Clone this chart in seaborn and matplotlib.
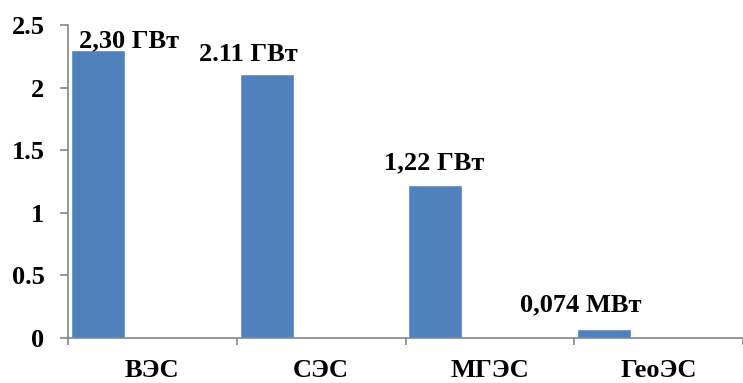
import matplotlib
matplotlib.use("Agg")
import matplotlib.pyplot as plt
import seaborn as sns

# Installed capacity by plant type
categories = ["ВЭС", "СЭС", "МГЭС", "ГеоЭС"]
values = [2.30, 2.11, 1.22, 0.074]
value_labels = ["2,30 ГВт", "2.11 ГВт", "1,22 ГВт", "0,074 МВт"]
y_ticks = [0, 0.5, 1, 1.5, 2, 2.5]
y_tick_labels = ["0", "0.5", "1", "1.5", "2", "2.5"]

# label placement relative to the top centre of each bar (pixels)
label_offsets = [(31, 3), (-18, 13), (-1, 16), (-23, 17)]

BAR_COLOR = "#4F81BD"
AXIS_COLOR = "#868686"
FONT = ["Liberation Serif", "DejaVu Serif"]
FS = 19

sns.set_theme(style="white")
plt.rcParams["font.family"] = FONT
plt.rcParams["font.weight"] = "bold"

W, H = 743, 383
fig = plt.figure(figsize=(W / 100, H / 100), dpi=100)
ax = fig.add_axes([68 / W, 45 / H, (W - 68) / W, 313 / H])

sns.barplot(x=categories, y=values, width=0.32, color=BAR_COLOR,
            saturation=1, ax=ax)

bar_w = 0.32
gap = 0.0175
slot_left = -bar_w / 2 - gap
n = len(categories)

ax.set_ylim(0, 2.5)
ax.set_xlim(slot_left, slot_left + (W - 68) / 172)

ax.set_yticks(y_ticks)
ax.set_yticklabels(y_tick_labels, fontsize=FS, fontweight="bold")

# category names sit in the middle of each slot, tick marks on slot boundaries
ax.set_xticks([i + slot_left + 0.5 for i in range(n)])
ax.set_xticklabels(categories, fontsize=FS, fontweight="bold")
ax.set_xticks([i + slot_left for i in range(n + 1)], minor=True)

ax.tick_params(axis="x", which="major", length=0, pad=15, colors="black")
ax.tick_params(axis="x", which="minor", length=5, width=1.2,
               color=AXIS_COLOR, direction="out", bottom=True)
ax.tick_params(axis="y", which="major", length=6, width=1.2,
               color=AXIS_COLOR, direction="out", left=True, pad=11,
               labelcolor="black")

for side in ("top", "right"):
    ax.spines[side].set_visible(False)
for side in ("left", "bottom"):
    ax.spines[side].set_color(AXIS_COLOR)
    ax.spines[side].set_linewidth(1.2)
ax.set_xlabel("")
ax.set_ylabel("")
ax.grid(False)

for patch, text, (dx, dy) in zip(ax.patches, value_labels, label_offsets):
    cx = patch.get_x() + patch.get_width() / 2
    ax.annotate(text, xy=(cx, patch.get_height()), xytext=(dx, dy),
                textcoords="offset pixels", ha="center", va="baseline",
                fontsize=FS, fontweight="bold", color="black",
                annotation_clip=False)

fig.savefig("out.png", dpi=100, facecolor="white")
